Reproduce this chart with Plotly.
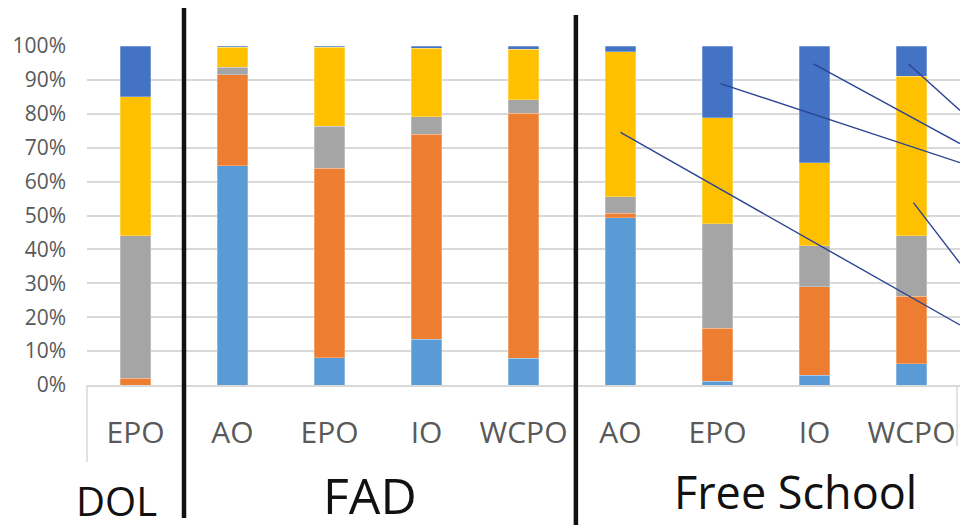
import plotly.graph_objects as go

# Stacked shares (%) per fishing mode / ocean, bottom to top
categories = ["EPO", "AO", "EPO", "IO", "WCPO", "AO", "EPO", "IO", "WCPO"]
groups = ["DOL", "FAD", "Free School"]

light_blue = [0.0, 64.7, 8.1, 13.5, 7.9, 49.3, 1.1, 2.9, 6.2]
orange = [2.0, 26.8, 55.8, 60.5, 72.2, 1.4, 15.7, 26.1, 20.0]
gray = [42.0, 2.2, 12.5, 5.1, 4.0, 4.8, 30.7, 12.1, 17.8]
yellow = [41.0, 5.9, 23.2, 20.2, 14.9, 42.8, 31.4, 24.4, 47.1]
dark_blue = [15.0, 0.4, 0.4, 0.7, 1.0, 1.7, 21.1, 34.5, 8.9]

y_ticks = list(range(0, 101, 10))
y_tick_text = [f"{v}%" for v in y_ticks]

# Callout leader lines: (bar index, start value) -> value at the right edge
callout_bar = [5, 6.03, 6.99, 7.97, 8.02]
callout_from = [74.5, 88.9, 94.7, 94.7, 53.8]
callout_to = [17.7, 65.6, 71.2, 81.0, 35.9]

series = [
    ("Light blue", light_blue, "#5B9BD5"),
    ("Orange", orange, "#ED7D31"),
    ("Gray", gray, "#A5A5A5"),
    ("Yellow", yellow, "#FFC000"),
    ("Dark blue", dark_blue, "#4472C4"),
]

x_pos = list(range(len(categories)))

fig = go.Figure()
for name, vals, color in series:
    fig.add_trace(go.Bar(
        x=x_pos, y=vals, name=name, width=0.31,
        marker=dict(color=color, line=dict(width=0.6, color="rgba(255,255,255,0.45)")),
        showlegend=False,
    ))

W, H = 961, 528
ml, mr, mt, mb = 87, 1, 46, 143
plot_h = H - mt - mb


def py(pix):
    """Pixel row -> paper y."""
    return (H - mb - pix) / plot_h


shapes = []
# callout leader lines
for xb, y0, y1 in zip(callout_bar, callout_from, callout_to):
    shapes.append(dict(type="line", xref="x", yref="y", x0=xb, y0=y0, x1=8.5, y1=y1,
                       line=dict(color="#2B4593", width=1.4), layer="above"))
# group separators
shapes.append(dict(type="line", xref="x", yref="paper", x0=0.5, x1=0.5,
                   y0=py(8), y1=py(518), line=dict(color="#111111", width=4.5)))
shapes.append(dict(type="line", xref="x", yref="paper", x0=4.54, x1=4.54,
                   y0=py(15), y1=py(525), line=dict(color="#111111", width=4.5)))
# category-axis frame edges
shapes.append(dict(type="line", xref="paper", yref="paper", x0=0, x1=0,
                   y0=0, y1=py(462), line=dict(color="#D9D9D9", width=1.5)))
shapes.append(dict(type="line", xref="paper", yref="paper", x0=0.9966, x1=0.9966,
                   y0=0, y1=py(446), line=dict(color="#D9D9D9", width=1.5)))

annotations = [
    dict(text=groups[0], x=116, y=py(500)),
    dict(text=groups[1], x=370, y=py(495)),
    dict(text=groups[2], x=795, y=py(491)),
]
sizes = [40, 50, 45]
for a, s in zip(annotations, sizes):
    a["x"] = (a["x"] - ml) / (W - ml - mr)
    a.update(xref="paper", yref="paper", showarrow=False, xanchor="center", yanchor="middle",
             font=dict(family="Open Sans", size=s, color="#111111"))

fig.update_layout(
    barmode="stack",
    width=W, height=H,
    margin=dict(l=ml, r=mr, t=mt, b=mb),
    plot_bgcolor="white", paper_bgcolor="white",
    shapes=shapes, annotations=annotations,
    xaxis=dict(
        range=[-0.5, 8.5], tickvals=x_pos, ticktext=categories,
        showgrid=False, zeroline=False, showline=True, linecolor="#D9D9D9", linewidth=1.5,
        ticks="", tickfont=dict(family="Open Sans", size=30, color="#595959"),
        ticklabelstandoff=20,
    ),
    yaxis=dict(
        range=[0, 100], tickvals=y_ticks, ticktext=y_tick_text,
        showgrid=True, gridcolor="#D9D9D9", gridwidth=1.5, zeroline=False,
        ticks="", tickfont=dict(family="Open Sans", size=21, color="#595959"),
        ticklabelstandoff=20,
    ),
)

fig.write_html("out.html")
